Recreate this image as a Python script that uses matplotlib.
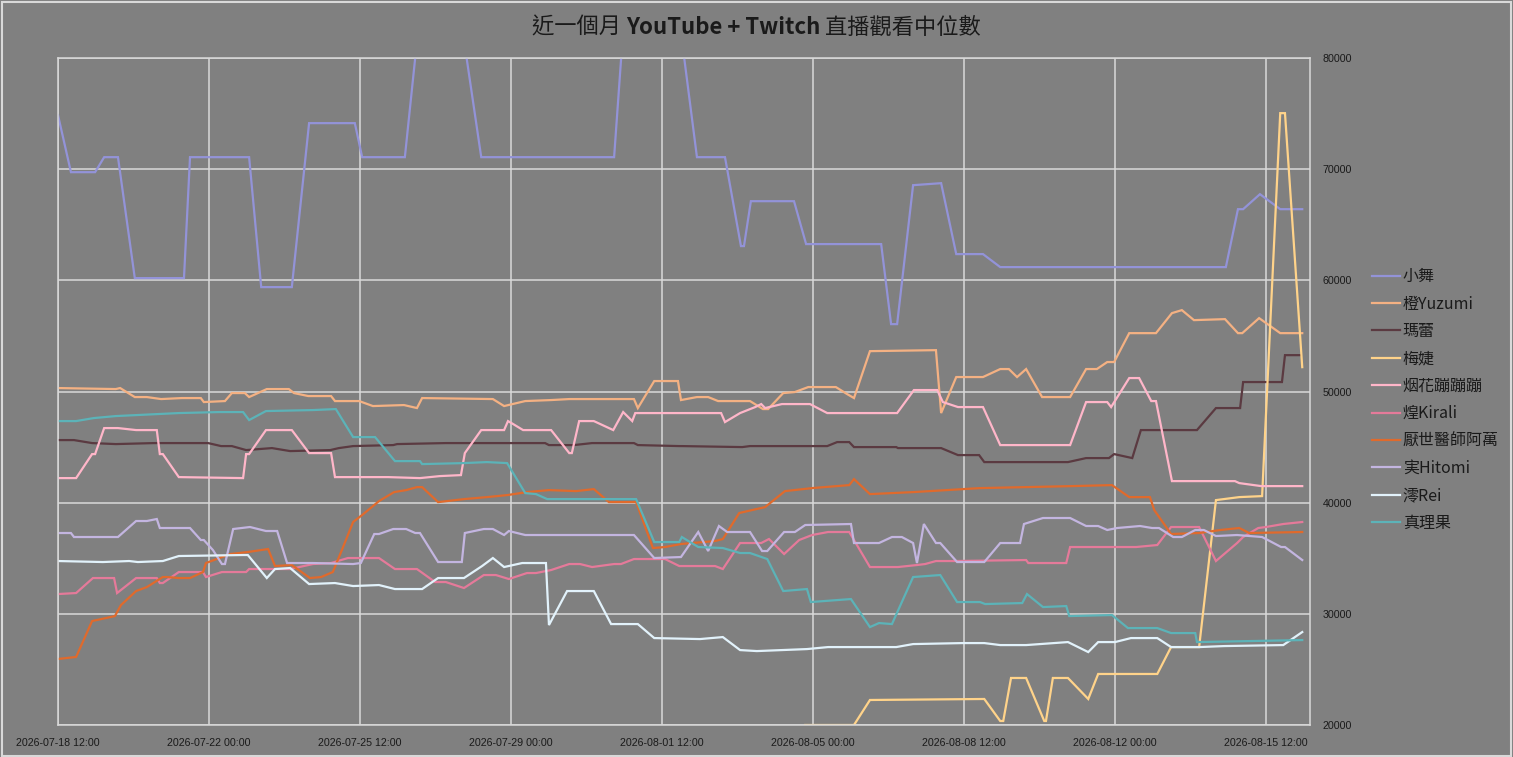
import datetime as dt
import matplotlib
matplotlib.use("Agg")
import matplotlib.pyplot as plt
import matplotlib.dates as mdates
from matplotlib.patches import Rectangle

plt.rcParams['font.family'] = ['Noto Sans CJK TC', 'DejaVu Sans']

START = dt.datetime(2026, 7, 18, 12, 0)

names = ['小舞', '橙Yuzumi', '瑪蕾', '梅婕', '烟花蹦蹦蹦', '煌Kirali', '厭世醫師阿萬', '実Hitomi', '澪Rei', '真理果']
colors = ['#9393d8', '#f4b183', '#5b3a41', '#ffd38a', '#ffb6c9', '#e57a9a', '#e06a2c', '#c3b5e0', '#e2f2fb', '#5cb3b8']

# days after 2026-07-18 12:00, median viewers
xiaowu_days = [0, 0.30, 0.86, 1.07, 1.39, 1.78, 2.92, 3.06, 4.43, 4.71, 5.42, 5.82, 6.88, 7.05, 8.04, 8.4, 9.3,
               9.81, 12.89, 13.2, 14.25, 14.81, 15.46, 15.83, 15.90, 16.06, 17.06, 17.34, 19.08, 19.31, 19.45,
               19.82, 20.47, 20.82, 21.44, 21.84, 27.07, 27.35, 27.47, 27.86, 28.33, 28.84]
xiaowu_vals = [74860, 69730, 69730, 71080, 71080, 60200, 60200, 71080, 71080, 59390, 59390, 74140, 74140, 71080,
               71080, 84500, 84500, 71080, 71080, 88000, 88000, 71080, 71080, 63080, 63080, 67120, 67120, 63260,
               63260, 56060, 56060, 68560, 68740, 62360, 62360, 61190, 61190, 66400, 66400, 67750, 66400, 66400]

yuzumi_days = [0, 1.34, 1.44, 1.78, 2.06, 2.39, 2.87, 3.31, 3.38, 3.87, 4.03, 4.33, 4.43, 4.84, 5.35, 5.47, 5.80,
               6.33, 6.42, 6.98, 7.30, 8.02, 8.32, 8.44, 10.08, 10.34, 10.83, 11.43, 11.85, 12.22, 13.35, 13.44,
               13.82, 14.37, 14.44, 14.81, 15.07, 15.30, 16.04, 16.34, 16.46, 16.81, 17.08, 17.39, 18.03, 18.29,
               18.45, 18.82, 20.35, 20.47, 20.82, 21.44, 21.84, 22.04, 22.23, 22.44, 22.81, 23.46, 23.83, 24.08,
               24.32, 24.48, 24.83, 25.45, 25.82, 26.05, 26.33, 27.05, 27.35, 27.45, 27.84, 28.33, 28.84]
yuzumi_vals = [50310, 50220, 50310, 49500, 49500, 49320, 49410, 49410, 49050, 49140, 49860, 49860, 49500, 50220,
               50220, 49860, 49590, 49590, 49140, 49140, 48690, 48780, 48510, 49410, 49320, 48690, 49140, 49230,
               49320, 49320, 49320, 48510, 50940, 50940, 49230, 49500, 49500, 49140, 49140, 48420, 48420, 49860,
               49950, 50400, 50400, 49770, 49410, 53630, 53720, 48060, 51300, 51300, 52020, 52020, 51300, 52020,
               49500, 49500, 52020, 52020, 52650, 52650, 55250, 55250, 57050, 57320, 56420, 56510, 55250, 55250,
               56600, 55250, 55250]

marei_days = [0, 0.37, 0.79, 1.34, 2.23, 3.48, 3.78, 4.03, 4.36, 4.66, 4.96, 5.38, 6.31, 6.51, 6.84, 7.77, 7.86,
              8.99, 9.83, 11.29, 11.38, 11.96, 12.38, 13.35, 13.44, 14.40, 14.46, 15.86, 16.04, 17.83, 18.06, 18.34,
              18.45, 19.43, 19.47, 20.47, 20.86, 21.35, 21.47, 23.41, 23.83, 24.36, 24.48, 24.90, 25.10, 26.40,
              26.84, 27.40, 27.47, 28.37, 28.44, 28.79]
marei_vals = [45630, 45630, 45360, 45270, 45360, 45360, 45090, 45090, 44730, 44820, 44910, 44640, 44730, 44910,
              45090, 45180, 45270, 45360, 45360, 45360, 45180, 45180, 45360, 45360, 45180, 45090, 45090, 45000,
              45090, 45090, 45450, 45450, 45000, 45000, 44910, 44910, 44280, 44280, 43650, 43650, 44010, 44010,
              44370, 44010, 46530, 46530, 48510, 48510, 50850, 50850, 53270, 53270]

meijie_days = [17.32, 18.45, 18.82, 21.47, 21.84, 21.91, 22.09, 22.44, 22.86, 22.90, 23.06, 23.41, 23.88, 24.11,
               25.48, 25.80, 26.45, 26.84, 27.38, 27.91, 28.33, 28.44, 28.84]
meijie_vals = [20000, 20000, 22250, 22340, 20360, 20360, 24230, 24230, 20360, 20360, 24230, 24230, 22340, 24590,
               24590, 27010, 27010, 40230, 40500, 40590, 75040, 75040, 52190]

yanhua_days = [0, 0.42, 0.79, 0.86, 1.07, 1.39, 1.81, 2.29, 2.36, 2.43, 2.80, 4.29, 4.36, 4.43, 4.82, 5.42, 5.82,
               6.33, 6.42, 7.65, 8.39, 8.85, 9.34, 9.43, 9.81, 10.34, 10.43, 10.55, 10.78, 11.43, 11.85, 11.91, 12.08,
               12.42, 12.87, 13.10, 13.31, 13.38, 15.37, 15.46, 15.81, 16.16, 16.30, 16.39, 16.78, 17.43, 17.83,
               19.45, 19.84, 20.38, 20.51, 20.86, 21.44, 21.84, 23.46, 23.83, 24.32, 24.41, 24.83, 25.06, 25.34,
               25.45, 25.82, 27.28, 27.38, 27.89, 28.84]
yanhua_vals = [42210, 42210, 44370, 44370, 46710, 46710, 46530, 46530, 44370, 44370, 42300, 42210, 44370, 44370,
               46530, 46530, 44460, 44460, 42300, 42300, 42210, 42390, 42480, 44460, 46530, 46530, 47340, 47070,
               46530, 46530, 44460, 44460, 47340, 47340, 46530, 48150, 47340, 48060, 48060, 47250, 48060, 48600,
               48870, 48510, 48870, 48870, 48060, 48060, 50130, 50130, 49050, 48600, 48600, 45180, 45180, 49050,
               49050, 48600, 51210, 51210, 49140, 49140, 41940, 41940, 41760, 41490, 41490]

kirali_days = [0, 0.42, 0.81, 1.30, 1.37, 1.81, 2.29, 2.36, 2.43, 2.80, 3.36, 3.43, 3.80, 4.36, 4.43, 5.38, 5.91,
               6.33, 6.72, 7.44, 7.81, 8.32, 8.74, 8.99, 9.41, 9.87, 10.15, 10.45, 10.87, 11.08, 11.43, 11.85, 12.10,
               12.38, 12.89, 13.05, 13.35, 14.07, 14.40, 15.23, 15.41, 15.81, 16.30, 16.48, 16.83, 17.18, 17.48,
               17.85, 18.34, 18.82, 19.47, 19.91, 20.10, 20.35, 20.79, 22.44, 22.49, 23.37, 23.46, 24.99, 25.48,
               25.80, 26.45, 26.84, 27.33, 27.47, 27.82, 28.00, 28.40, 28.84]
kirali_vals = [31780, 31870, 33220, 33220, 31870, 33220, 33220, 32770, 32770, 33760, 33760, 33310, 33760, 33760,
               34030, 34030, 34480, 34570, 35020, 35020, 34030, 34030, 32860, 32860, 32320, 33490, 33490, 33130,
               33670, 33670, 33940, 34480, 34480, 34210, 34480, 34480, 34930, 34930, 34300, 34300, 34030, 36370,
               36370, 36730, 35380, 36640, 37090, 37360, 37360, 34210, 34210, 34390, 34480, 34750, 34750, 34840,
               34570, 34570, 36010, 36010, 36190, 37810, 37810, 34750, 36370, 36910, 37720, 37810, 38080, 38260]

awan_days = [0, 0.42, 0.79, 1.32, 1.46, 1.81, 2.06, 2.43, 2.53, 2.80, 3.06, 3.36, 3.43, 3.99, 4.40, 4.87, 5.03, 5.42,
             5.84, 6.10, 6.37, 6.58, 6.84, 7.05, 7.44, 7.79, 8.07, 8.32, 8.44, 8.81, 9.41, 9.94, 10.41, 10.87, 11.38,
             12.01, 12.42, 12.77, 13.40, 13.79, 14.07, 14.44, 15.23, 15.41, 15.79, 16.39, 16.85, 17.48, 18.34, 18.45,
             18.82, 19.82, 21.37, 23.50, 24.43, 24.83, 25.31, 25.41, 25.80, 26.45, 26.94, 27.38, 27.61, 28.84]
awan_vals = [25940, 26120, 29350, 29800, 30790, 32050, 32410, 33310, 33310, 33220, 33220, 33760, 34570, 35380, 35560,
             35830, 34300, 34390, 33220, 33310, 33760, 35740, 38260, 38890, 40140, 40950, 41130, 41400, 41400, 40050,
             40320, 40500, 40680, 40950, 41130, 41040, 41220, 40050, 40050, 35920, 36010, 36280, 36550, 36730, 39070,
             39600, 41040, 41310, 41580, 42120, 40770, 40950, 41310, 41490, 41580, 40500, 40500, 39330, 37180, 37270,
             37540, 37720, 37270, 37360]

hitomi_days = [0, 0.30, 0.37, 1.39, 1.81, 2.06, 2.29, 2.36, 3.06, 3.31, 3.38, 3.59, 3.80, 3.87, 4.06, 4.45, 4.82,
               5.08, 5.31, 5.91, 6.84, 7.02, 7.33, 7.44, 7.77, 8.07, 8.28, 8.39, 8.81, 9.36, 9.43, 9.87, 10.08, 10.34,
               10.45, 10.83, 13.35, 13.82, 14.44, 14.84, 15.07, 15.32, 15.51, 16.04, 16.32, 16.44, 16.83, 17.08, 17.32,
               18.38, 18.45, 19.03, 19.33, 19.56, 19.82, 19.91, 20.07, 20.35, 20.45, 20.84, 21.47, 21.84, 22.30, 22.39,
               22.83, 23.46, 23.83, 24.11, 24.32, 24.55, 25.08, 25.36, 25.52, 25.85, 26.05, 26.36, 26.56, 26.84, 27.33,
               27.91, 28.35, 28.44, 28.84]
hitomi_vals = [37270, 37270, 36910, 36910, 38350, 38350, 38530, 37720, 37720, 36640, 36640, 35740, 34480, 34480,
               37630, 37810, 37450, 37450, 34570, 34570, 34480, 34570, 37180, 37180, 37630, 37630, 37270, 37270, 34660,
               34660, 37270, 37630, 37630, 37090, 37450, 37090, 37090, 35020, 35110, 37360, 35650, 37900, 37360, 37360,
               35650, 35650, 37360, 37360, 37990, 38080, 36370, 36370, 36910, 36910, 36370, 34570, 38080, 36370, 36370,
               34660, 34660, 36370, 36370, 38080, 38620, 38620, 37900, 37900, 37540, 37720, 37900, 37720, 37720, 36910,
               36910, 37540, 37540, 37000, 37090, 36910, 36010, 36010, 34840]

rei_days = [0, 1.04, 1.65, 1.85, 2.43, 2.80, 4.29, 4.40, 4.84, 5.03, 5.38, 5.82, 6.42, 6.84, 7.44, 7.81, 8.44, 8.81,
            9.41, 9.83, 10.08, 10.34, 10.76, 11.31, 11.38, 11.80, 12.42, 12.82, 13.44, 13.82, 14.88, 15.41, 15.81,
            16.20, 17.36, 17.85, 19.43, 19.82, 20.98, 21.47, 21.84, 22.44, 23.41, 23.88, 24.11, 24.50, 24.87, 25.48,
            25.80, 26.45, 27.03, 28.40, 28.84]
rei_vals = [34750, 34660, 34750, 34660, 34750, 35200, 35290, 35290, 33220, 34030, 34120, 32680, 32770, 32500, 32590,
            32230, 32230, 33220, 33220, 34300, 35020, 34210, 34570, 34570, 28990, 32050, 32050, 29080, 29080, 27820,
            27730, 27910, 26740, 26650, 26830, 27010, 27010, 27280, 27370, 27370, 27190, 27190, 27460, 26560, 27460,
            27460, 27820, 27820, 27010, 27010, 27100, 27190, 28360]

marika_days = [0, 0.42, 0.83, 1.34, 2.80, 3.73, 4.29, 4.43, 4.82, 5.91, 6.44, 6.84, 7.35, 7.81, 8.39, 8.44, 9.41,
               9.94, 10.41, 10.83, 11.08, 11.34, 13.40, 13.82, 14.40, 14.46, 14.84, 15.41, 15.81, 16.04, 16.44, 16.81,
               17.36, 17.45, 18.38, 18.82, 19.03, 19.33, 19.82, 20.45, 20.84, 21.37, 21.49, 22.35, 22.46, 22.83,
               23.37, 23.44, 24.43, 24.80, 25.48, 25.80, 26.36, 26.40, 28.84]
marika_vals = [47340, 47340, 47610, 47790, 48060, 48150, 48150, 47430, 48240, 48330, 48420, 45900, 45900, 43740,
               43740, 43470, 43560, 43650, 43560, 40860, 40770, 40320, 40320, 36460, 36460, 36910, 36010, 35920, 35470,
               35470, 34930, 32050, 32230, 31060, 31330, 28810, 29170, 29080, 33310, 33490, 31060, 31060, 30880, 30970,
               31780, 30610, 30700, 29800, 29890, 28720, 28720, 28270, 28270, 27460, 27640]

series_days = [xiaowu_days, yuzumi_days, marei_days, meijie_days, yanhua_days,
               kirali_days, awan_days, hitomi_days, rei_days, marika_days]
series_vals = [xiaowu_vals, yuzumi_vals, marei_vals, meijie_vals, yanhua_vals,
               kirali_vals, awan_vals, hitomi_vals, rei_vals, marika_vals]

y_ticks = [20000, 30000, 40000, 50000, 60000, 70000, 80000]
tick_step_days = 3.5
n_ticks = 9
span_days = 29.02

bg = '#808080'
grid = '#d9d9d9'
txt = '#1a1a1a'

fig = plt.figure(figsize=(15.13, 7.57), dpi=100, facecolor=bg)
ax = fig.add_axes([58 / 1513, 1 - 725 / 757, (1310 - 58) / 1513, (725 - 58) / 757])
ax.set_facecolor(bg)

for name, color, days, vals in zip(names, colors, series_days, series_vals):
    xs = [START + dt.timedelta(days=d) for d in days]
    ax.plot(xs, vals, color=color, lw=1.6, label=name, solid_joinstyle='miter')

ax.set_ylim(20000, 80000)
ax.set_yticks(y_ticks)
ax.yaxis.tick_right()
ax.set_xlim(START, START + dt.timedelta(days=span_days))
xt = [START + dt.timedelta(days=tick_step_days * i) for i in range(n_ticks)]
ax.set_xticks(xt)
ax.xaxis.set_major_formatter(mdates.DateFormatter('%Y-%m-%d %H:%M'))
ax.tick_params(axis='both', length=0, colors=txt, labelsize=7.7)
ax.tick_params(axis='x', pad=9)
ax.tick_params(axis='y', pad=9)
for lab in ax.get_xticklabels() + ax.get_yticklabels():
    lab.set_family(['Liberation Sans', 'DejaVu Sans'])
ax.grid(True, color=grid, lw=1.1)
ax.set_axisbelow(True)
for sp in ax.spines.values():
    sp.set_color(grid)
    sp.set_linewidth(1.1)

ax.legend(loc='center left', bbox_to_anchor=(1366 / 1513, 1 - 400 / 757), bbox_transform=fig.transFigure,
          frameon=False, fontsize=11.5, handlelength=1.7, handletextpad=0.2, labelspacing=0.65,
          labelcolor=txt, borderaxespad=0)

# title: regular CJK + bold latin
parts = [('近一個月 ', 'normal'), ('YouTube + Twitch', 'bold'), (' 直播觀看中位數', 'normal')]
fig.canvas.draw()
r = fig.canvas.get_renderer()
objs = []
for s, w in parts:
    t = fig.text(0, 1 - 27 / 757, s, fontsize=16, fontweight=w, color=txt, va='center', ha='left')
    objs.append(t)
widths = [t.get_window_extent(r).width for t in objs]
x0 = (1513 * 0.5 - sum(widths) / 2)
for t, w in zip(objs, widths):
    t.set_x(x0 / 1513)
    x0 += w

fig.patches.append(Rectangle((0.001, 0.001), 0.998, 0.997, transform=fig.transFigure,
                             fill=False, edgecolor=grid, lw=1.5))

fig.savefig('out.png', dpi=100, facecolor=bg)
